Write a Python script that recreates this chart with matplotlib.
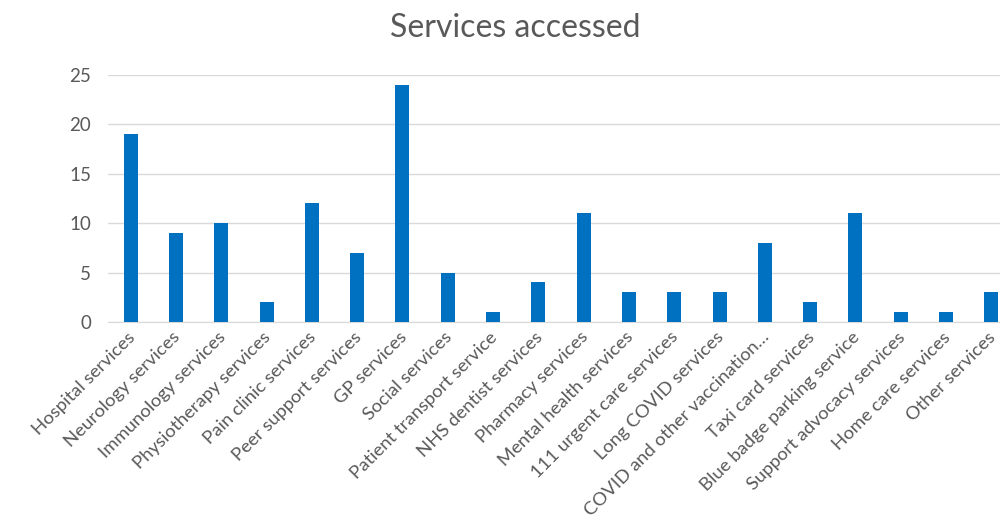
import matplotlib.pyplot as plt
from matplotlib.transforms import ScaledTranslation

services = ['Hospital services', 'Neurology services', 'Immunology services',
            'Physiotherapy services', 'Pain clinic services', 'Peer support services',
            'GP services', 'Social services', 'Patient transport service',
            'NHS dentist services', 'Pharmacy services', 'Mental health services',
            '111 urgent care services', 'Long COVID services',
            'COVID and other vaccination\u2026', 'Taxi card services',
            'Blue badge parking service', 'Support advocacy services',
            'Home care services', 'Other services']
counts = [19, 9, 10, 2, 12, 7, 24, 5, 1, 4, 11, 3, 3, 3, 8, 2, 11, 1, 1, 3]

plt.rcParams['font.family'] = ['Lato', 'DejaVu Sans']
grey = '#595959'

fig = plt.figure(figsize=(10, 5.21), dpi=100)
ax = fig.add_axes([0.108, 0.382, 0.906, 0.474])

x = range(len(services))
ax.bar(x, counts, width=0.31, color='#0070C0', zorder=3)

ax.set_xlim(-0.5, len(services) - 0.5)
ax.set_ylim(0, 25)
ax.set_yticks([0, 5, 10, 15, 20, 25])
ax.yaxis.grid(True, color='#D9D9D9', linewidth=1, zorder=0)
for s in ['top', 'right', 'left']:
    ax.spines[s].set_visible(False)
ax.spines['bottom'].set_color('#D9D9D9')
ax.tick_params(axis='both', length=0, colors=grey)
ax.tick_params(axis='y', pad=12, labelsize=13.5)
ax.tick_params(axis='x', pad=5, labelsize=13.3)
ax.set_xticks(list(x))
ax.set_xticklabels(services, rotation=45, ha='right', rotation_mode='anchor')

# nudge the slanted labels a little to the left
shift = ScaledTranslation(-4 / 100, 0, fig.dpi_scale_trans)
for lab in ax.get_xticklabels():
    lab.set_transform(lab.get_transform() + shift)

fig.suptitle('Services accessed', x=0.515, y=0.975, fontsize=23, color=grey)

fig.savefig('out.png', dpi=100)
